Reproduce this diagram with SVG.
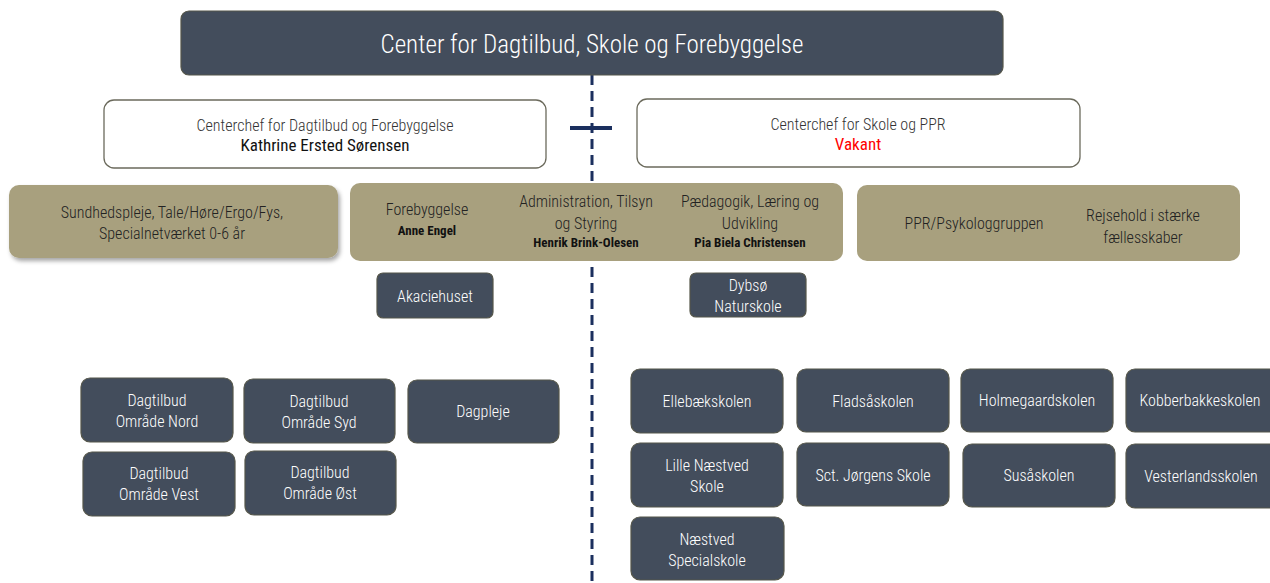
<svg xmlns="http://www.w3.org/2000/svg" width="1270" height="583" viewBox="0 0 1270 583">
<style>
text{font-family:"Roboto Condensed","DejaVu Sans Condensed","Liberation Sans Narrow","Roboto",sans-serif;text-anchor:middle;font-stretch:condensed;font-weight:300}
.dk{fill:#434d5c;stroke:#55564a;stroke-width:1.2}
.dt{fill:#ffffff;font-size:16px}
.wb{fill:#ffffff;stroke:#6b6a5c;stroke-width:1.3}
.tan{fill:#a8a07e}
.bt{fill:#222222;font-size:16px}
.nm{fill:#111111;font-size:13px;font-weight:bold}
</style>
<defs>
<filter id="sh" x="-5%" y="-10%" width="115%" height="130%">
<feDropShadow dx="2" dy="3" stdDeviation="2" flood-color="#000" flood-opacity="0.35"/>
</filter>
</defs>
<g id="connectors">
<line x1="592" y1="75" x2="592" y2="583" stroke="#1b2f5e" stroke-width="3" stroke-dasharray="10,6"/>
<line x1="570" y1="128" x2="612" y2="128" stroke="#1b2f5e" stroke-width="4"/>
</g>
<g id="center">
<rect class="dk" x="181" y="11" width="822" height="64" rx="8"/>
<text x="592" y="53" fill="#ffffff" style="font-size:25px">Center for Dagtilbud, Skole og Forebyggelse</text>
</g>
<g id="chef-left">
<rect class="wb" x="104" y="100" width="442" height="68" rx="10"/>
<text x="325" y="131" fill="#333" style="font-size:16px">Centerchef for Dagtilbud og Forebyggelse</text>
<text x="325" y="151" fill="#111" style="font-size:17px;font-weight:400">Kathrine Ersted Sørensen</text>
</g>
<g id="chef-right">
<rect class="wb" x="637" y="99" width="443" height="68" rx="10"/>
<text x="858" y="130" fill="#333" style="font-size:16px">Centerchef for Skole og PPR</text>
<text x="858" y="150" fill="#ff0000" style="font-size:17px;font-weight:400">Vakant</text>
</g>
<g id="sundhed">
<rect class="tan" x="9" y="185" width="329" height="73" rx="10" filter="url(#sh)"/>
<text class="bt" x="172" y="218">Sundhedspleje, Tale/Høre/Ergo/Fys,</text>
<text class="bt" x="172" y="239">Specialnetværket 0-6 år</text>
</g>
<g id="afdelinger">
<rect class="tan" x="350" y="183" width="493" height="78" rx="10"/>
<text class="bt" x="427" y="215">Forebyggelse</text>
<text class="nm" x="427" y="235">Anne Engel</text>
<text class="bt" x="586" y="207">Administration, Tilsyn</text>
<text class="bt" x="586" y="229">og Styring</text>
<text class="nm" x="586" y="247">Henrik Brink-Olesen</text>
<text class="bt" x="750" y="207">Pædagogik, Læring og</text>
<text class="bt" x="750" y="229">Udvikling</text>
<text class="nm" x="750" y="247">Pia Biela Christensen</text>
</g>
<g id="ppr">
<rect class="tan" x="857" y="185" width="383" height="76" rx="10"/>
<text class="bt" x="974" y="229">PPR/Psykologgruppen</text>
<text class="bt" x="1143" y="221">Rejsehold i stærke</text>
<text class="bt" x="1143" y="243">fællesskaber</text>
</g>
<g id="akaciehuset">
<rect class="dk" x="377" y="273" width="116" height="45" rx="6"/>
<text class="dt" x="435" y="302">Akaciehuset</text>
</g>
<g id="dybsoe">
<rect class="dk" x="690" y="273" width="116" height="44" rx="6"/>
<text class="dt" x="748" y="291">Dybsø</text>
<text class="dt" x="748" y="312">Naturskole</text>
</g>
<g id="nord">
<rect class="dk" x="81" y="378" width="152" height="64" rx="9"/>
<text class="dt" x="157" y="406">Dagtilbud</text>
<text class="dt" x="157" y="427">Område Nord</text>
</g>
<g id="syd">
<rect class="dk" x="244" y="379" width="151" height="64" rx="9"/>
<text class="dt" x="319" y="407">Dagtilbud</text>
<text class="dt" x="319" y="428">Område Syd</text>
</g>
<g id="dagpleje">
<rect class="dk" x="408" y="380" width="151" height="63" rx="9"/>
<text class="dt" x="483" y="417">Dagpleje</text>
</g>
<g id="vest">
<rect class="dk" x="83" y="452" width="152" height="64" rx="9"/>
<text class="dt" x="159" y="479">Dagtilbud</text>
<text class="dt" x="159" y="500">Område Vest</text>
</g>
<g id="oest">
<rect class="dk" x="245" y="451" width="151" height="64" rx="9"/>
<text class="dt" x="320" y="478">Dagtilbud</text>
<text class="dt" x="320" y="499">Område Øst</text>
</g>
<g id="ellebaek">
<rect class="dk" x="631" y="369" width="152" height="64" rx="9"/>
<text class="dt" x="707" y="407">Ellebækskolen</text>
</g>
<g id="fladsaa">
<rect class="dk" x="797" y="369" width="152" height="63" rx="9"/>
<text class="dt" x="873" y="407">Fladsåskolen</text>
</g>
<g id="holmegaard">
<rect class="dk" x="961" y="369" width="152" height="63" rx="9"/>
<text class="dt" x="1037" y="406">Holmegaardskolen</text>
</g>
<g id="kobberbakke">
<rect class="dk" x="1126" y="369" width="152" height="63" rx="9"/>
<text class="dt" x="1200" y="406">Kobberbakkeskolen</text>
</g>
<g id="lillenaestved">
<rect class="dk" x="631" y="443" width="152" height="64" rx="9"/>
<text class="dt" x="707" y="471">Lille Næstved</text>
<text class="dt" x="707" y="492">Skole</text>
</g>
<g id="sctjoergens">
<rect class="dk" x="797" y="443" width="152" height="63" rx="9"/>
<text class="dt" x="873" y="481">Sct. Jørgens Skole</text>
</g>
<g id="susaa">
<rect class="dk" x="963" y="444" width="152" height="63" rx="9"/>
<text class="dt" x="1039" y="481">Susåskolen</text>
</g>
<g id="vesterland">
<rect class="dk" x="1126" y="444" width="152" height="64" rx="9"/>
<text class="dt" x="1201" y="482">Vesterlandsskolen</text>
</g>
<g id="specialskole">
<rect class="dk" x="631" y="517" width="153" height="63" rx="9"/>
<text class="dt" x="707" y="545">Næstved</text>
<text class="dt" x="707" y="566">Specialskole</text>
</g>
</svg>
